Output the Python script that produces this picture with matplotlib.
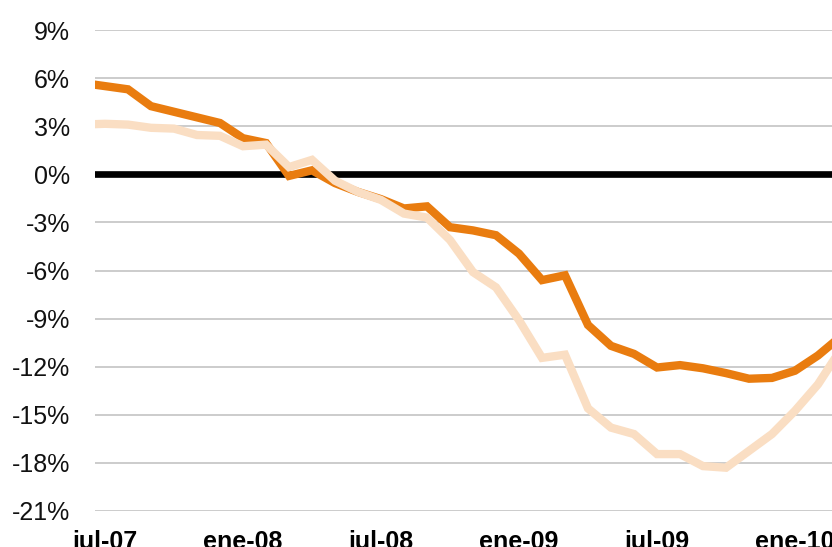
import matplotlib
matplotlib.use("Agg")
import matplotlib.pyplot as plt
from matplotlib.ticker import FuncFormatter

plt.rcParams['font.family'] = ['Liberation Sans', 'DejaVu Sans']

# months from jun-07 (index -1) to mar-10 (index 32); jul-07 = 0
months = list(range(-1, 33))
serie_a = [5.7, 5.5, 5.3, 4.25, 3.9, 3.55, 3.2, 2.25, 1.95, -0.1, 0.25, -0.55, -1.1, -1.55,
           -2.13, -2.0, -3.3, -3.5, -3.8, -4.95, -6.6, -6.3, -9.4, -10.7, -11.2, -12.05,
           -11.9, -12.1, -12.4, -12.75, -12.7, -12.25, -11.3, -10.1]
serie_b = [3.1, 3.15, 3.1, 2.9, 2.85, 2.45, 2.4, 1.75, 1.85, 0.45, 0.9, -0.4, -1.1, -1.6,
           -2.45, -2.7, -4.1, -6.1, -7.05, -9.1, -11.45, -11.25, -14.6, -15.8, -16.2, -17.45,
           -17.45, -18.2, -18.3, -17.25, -16.2, -14.75, -13.1, -10.9]
tick_pos = [0, 6, 12, 18, 24, 30]
tick_labels = ['jul-07', 'ene-08', 'jul-08', 'ene-09', 'jul-09', 'ene-10']
y_ticks = [-21, -18, -15, -12, -9, -6, -3, 0, 3, 6, 9]

fig = plt.figure(figsize=(8.32, 5.47), dpi=100)
ax = fig.add_axes([95/832, 36/547, 1 - 95/832, (511-30)/547])

ax.set_ylim(-21, 9)
ax.set_xlim(-10/23, (832-105)/23)
ax.set_yticks(y_ticks)
ax.yaxis.set_major_formatter(FuncFormatter(lambda v, p: f"{int(round(v))}%"))
ax.set_xticks(tick_pos)
ax.set_xticklabels(tick_labels, fontweight='bold')
ax.grid(axis='y', color='#C4C4C4', linewidth=1.2)
ax.set_axisbelow(True)
for s in ax.spines.values():
    s.set_visible(False)
ax.tick_params(axis='y', length=0, pad=18, labelsize=18, labelcolor='#111111')
ax.tick_params(axis='x', length=0, pad=14, labelsize=18)

ax.axhline(0, color='black', linewidth=4.8, zorder=2)
ax.plot(months, serie_a, color='#E97C0F', linewidth=6, zorder=3, solid_joinstyle='miter')
ax.plot(months, serie_b, color='#FADEC3', linewidth=6, zorder=4, solid_joinstyle='miter')

fig.savefig('out.png', dpi=100)
